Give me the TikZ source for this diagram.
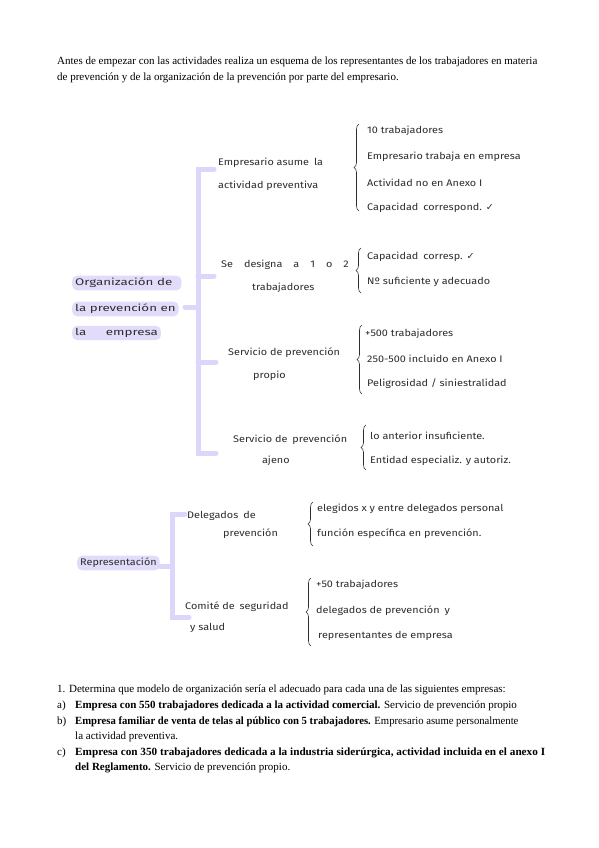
\documentclass[tikz,border=0pt]{standalone}
\usepackage{fontspec}
\setmainfont{Liberation Serif}
\newfontfamily\hand{Fira Sans}[FakeStretch=1.13]
\newfontfamily\sym{DejaVu Sans}
\usetikzlibrary{decorations.pathreplacing}
\definecolor{hwgray}{RGB}{45,45,45}
\definecolor{barcol}{RGB}{220,214,251}
\definecolor{hlcol}{RGB}{226,220,250}
\tikzset{
 hw/.style={font=\hand\fontsize{9.6}{11}\selectfont, text=hwgray, inner sep=0pt, anchor=west},
 hl/.style={hw, fill=hlcol, rounded corners=5pt, inner xsep=3pt, inner ysep=2.5pt},
 bar/.style={draw=barcol, line width=5pt, line cap=round},
 brc/.style={draw=hwgray, line width=0.6pt, decorate, decoration={brace, amplitude=5pt}},
 pr/.style={font=\fontsize{11}{13}\selectfont, inner sep=0pt, anchor=west},
}
\newcommand\gap{\hspace{5pt}}
\newcommand\gapb{\hspace{11pt}}
\begin{document}
\begin{tikzpicture}[x=1pt,y=-1pt]
\useasboundingbox[fill=white] (0,0) rectangle (599,848);
% header
\node[pr] (h1) at (57,62) {Antes de empezar con las actividades realiza un esquema de los representantes de los trabajadores en materia};
\node[pr] (h2) at (57,78) {de prevención y de la organización de la prevención por parte del empresario.};
% --- Organización
\node[hl] (o1) at (72,283) {\scalebox{1.23}[1]{Organización de\gap}};
\node[hl] (o2) at (72,309) {\scalebox{1.23}[1]{la prevención en}};
\node[hl] (o3) at (72,333) {\scalebox{1.23}[1]{la\gapb\gap empresa}};
\coordinate (ot) at (198,169);
\coordinate (ob) at (198,453);
\coordinate (om) at (198,307);
\draw[bar] (185,307) -- (om);
\draw[bar] (214,169) -- (ot) -- (ob) -- (216,453);
\draw[bar] (198,276) -- (214,276);
\draw[bar] (198,362) -- (216,362);
% branch 1
\node[hw] (e1) at (218,163) {Empresario asume\gap la};
\node[hw] (e2) at (218,186) {actividad preventiva};
\draw[brc] (359,211) -- (359,124);
\node[hw] (e1a) at (367,131) {10 trabajadores};
\node[hw] (e1b) at (367,157) {Empresario trabaja en empresa};
\node[hw] (e1c) at (367,183) {Actividad no en Anexo I};
\node[hw] (e1d) at (367,208) {Capacidad\gap correspond. {\sym ✓}};
% branch 2
\node[hw] (s1) at (221,265) {Se\gapb designa\gapb a\gapb 1\gapb o\gapb 2};
\node[hw] (s2) at (252,288) {trabajadores};
\draw[brc] (361,293) -- (361,248);
\node[hw] (s2a) at (367,257) {Capacidad\gap corresp. {\sym ✓}};
\node[hw] (s2b) at (367,282) {Nº suficiente y adecuado};
% branch 3
\node[hw] (p1) at (228,353) {Servicio de prevención};
\node[hw] (p2) at (253,376) {propio};
\draw[brc] (362,394) -- (362,325);
\node[hw] (p3a) at (365,334) {+500 trabajadores};
\node[hw] (p3b) at (367,359) {250-500 incluido en Anexo I};
\node[hw] (p3c) at (367,384) {Peligrosidad / siniestralidad};
% branch 4
\node[hw] (a1) at (233,440) {Servicio de\gap prevención};
\node[hw] (a2) at (262,461) {ajeno};
\draw[brc] (366,470) -- (366,425);
\node[hw] (a4a) at (370,436) {lo anterior insuficiente.};
\node[hw] (a4b) at (370,461) {Entidad especializ. y autoriz.};
% --- Representación
\node[hl] (r) at (77,563) {Representación};
\coordinate (rt) at (172,514);
\coordinate (rb) at (172,617);
\draw[bar] (160,566) -- (172,566);
\draw[bar] (185,514) -- (rt) -- (rb) -- (189,617);
\node[hw] (d1) at (187,516) {Delegados\gap de};
\node[hw] (d2) at (223,534) {prevención};
\draw[brc] (313,546) -- (313,502);
\node[hw] (d3a) at (317,509) {elegidos x y entre delegados personal};
\node[hw] (d3b) at (317,534) {función específica en prevención.};
\node[hw] (c1) at (185,607) {Comité de\gap seguridad};
\node[hw] (c2) at (190,628) {y salud};
\draw[brc] (311,646) -- (311,578);
\node[hw] (c3a) at (316,585) {+50 trabajadores};
\node[hw] (c3b) at (316,611) {delegados de prevención\gap y};
\node[hw] (c3c) at (318,636) {representantes de empresa};
% --- bottom text
\node[pr] (q) at (57,690) {1. Determina que modelo de organización sería el adecuado para cada una de las siguientes empresas:};
\node[pr] (la) at (57,706) {a)};
\node[pr] (ta) at (75,706) {\textbf{Empresa con 550 trabajadores dedicada a la actividad comercial.} Servicio de prevención propio};
\node[pr] (lb) at (57,722) {b)};
\node[pr] (tb) at (75,722) {\scalebox{0.97}[1]{\textbf{Empresa familiar de venta de telas al público con 5 trabajadores.} Empresario asume personalmente}};
\node[pr] (tb2) at (75,737) {la actividad preventiva.};
\node[pr] (lc) at (57,753) {c)};
\node[pr] (tc) at (75,753) {\scalebox{1.02}[1]{\textbf{Empresa con 350 trabajadores dedicada a la industria siderúrgica, actividad incluida en el anexo I}}};
\node[pr] (tc2) at (75,768) {\textbf{del Reglamento.} Servicio de prevención propio.};
\end{tikzpicture}
\end{document}
